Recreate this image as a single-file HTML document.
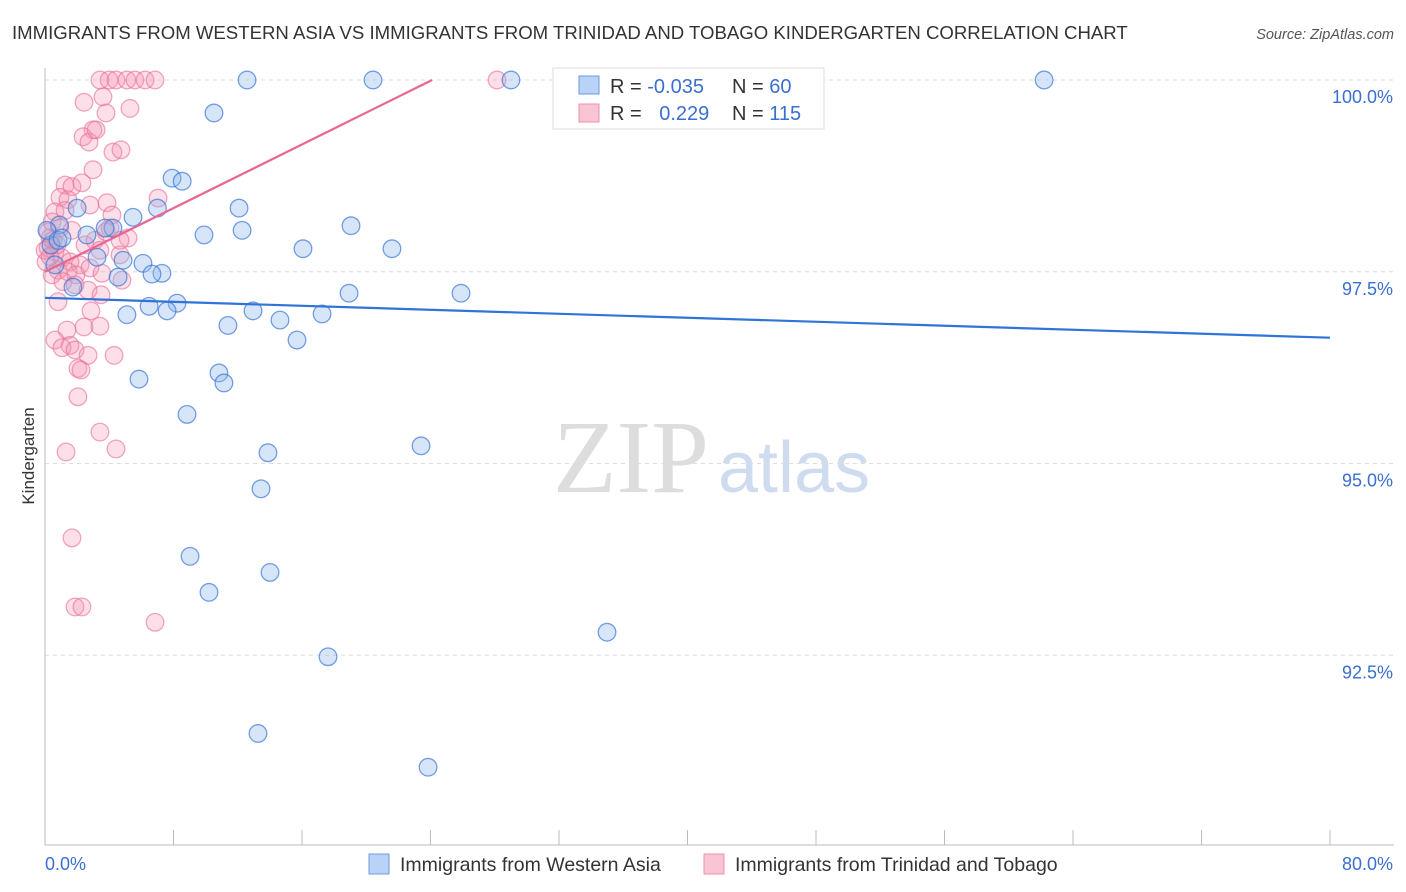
<!DOCTYPE html>
<html><head><meta charset="utf-8"><style>
body{margin:0;background:#fff;font-family:"Liberation Sans",sans-serif}
svg{display:block}
</style></head><body>
<svg id="c" width="1406" height="892">
<text x="12" y="39" font-size="18.6" fill="#333">IMMIGRANTS FROM WESTERN ASIA VS IMMIGRANTS FROM TRINIDAD AND TOBAGO KINDERGARTEN CORRELATION CHART</text>
<text x="1394" y="39" font-size="14.5" fill="#555" font-style="italic" text-anchor="end">Source: ZipAtlas.com</text>
<text x="553" y="492" font-size="104" fill="#ddd" font-family="Liberation Serif">ZIP</text>
<text x="718" y="492" font-size="72" fill="#cfdcf0">atlas</text>
<text transform="translate(34,456) rotate(-90)" font-size="17" fill="#333" text-anchor="middle">Kindergarten</text>
<g id="grid"></g><g id="pts"></g><g id="lines"></g>
<g>
<rect x="553" y="68" width="271" height="61" fill="#fff" stroke="#ddd"/>
<rect x="579" y="76" width="20" height="18" fill="#b9d2f5" stroke="#6a9be0"/>
<rect x="579" y="104" width="20" height="18" fill="#f9c4d3" stroke="#ef8fab"/>
<text x="610" y="93" font-size="20" fill="#333">R = <tspan fill="#3a6fd0">-0.035</tspan></text>
<text x="732" y="93" font-size="20" fill="#333">N = <tspan fill="#3a6fd0">60</tspan></text>
<text x="610" y="120" font-size="20" fill="#333">R = <tspan fill="#3a6fd0" dx="12">0.229</tspan></text>
<text x="732" y="120" font-size="20" fill="#333">N = <tspan fill="#3a6fd0">115</tspan></text>
</g>
<g>
<rect x="369" y="854" width="20" height="20" fill="#b9d2f5" stroke="#6a9be0"/>
<text x="400" y="871" font-size="19.5" fill="#333">Immigrants from Western Asia</text>
<rect x="704" y="854" width="20" height="20" fill="#f9c4d3" stroke="#ef8fab"/>
<text x="735" y="871" font-size="19.5" fill="#333">Immigrants from Trinidad and Tobago</text>
</g>
<text x="45" y="870" font-size="18" fill="#3a6fd0">0.0%</text>
<text x="1393" y="870" font-size="18" fill="#3a6fd0" text-anchor="end">80.0%</text>
</svg>
<script>
const yTicks=[100,97.5,95,92.5];
const yTickLabels=["100.0%","97.5%","95.0%","92.5%"];
const blueX=[12.58,20.42,29.01,42.4,62.2,10.52,7.91,8.54,12.08,7.0,5.48,19.05,12.27,9.9,4.23,2.0,0.9,2.61,16.06,21.6,3.24,4.86,6.1,7.28,6.66,4.55,0.37,0.62,1.74,18.93,25.9,8.22,6.48,7.6,12.95,5.1,17.25,14.63,11.39,15.69,5.85,10.83,11.14,8.84,13.88,23.41,13.45,9.03,14.01,10.21,17.62,34.99,13.26,23.85,0.12,0.81,3.74,1.06];
const blueY=[100,100,100,100,100,99.57,98.72,98.68,98.33,98.33,98.21,98.10,98.04,97.98,98.07,98.33,98.11,97.98,97.80,97.80,97.69,97.65,97.61,97.48,97.47,97.43,97.85,97.59,97.30,97.22,97.22,97.09,97.05,96.99,96.99,96.94,96.95,96.87,96.80,96.61,96.10,96.18,96.05,95.64,95.14,95.23,94.67,93.79,93.58,93.32,92.48,92.80,91.48,91.04,98.04,97.91,98.07,97.94];
const pinkX=[3.42,3.99,4.42,5.1,5.6,6.23,6.85,28.14,2.43,3.61,5.29,3.8,2.99,2.37,2.74,3.18,4.23,4.73,2.99,1.25,1.68,2.3,0.93,1.43,2.8,3.86,7.04,4.17,0.62,1.25,0.44,0.93,1.68,2.49,3.11,3.8,5.17,0.31,0.19,0.62,1.06,1.56,2.18,2.8,0.81,1.43,1.93,3.42,4.67,0.06,0.44,1.12,1.87,3.55,4.79,2.68,3.49,0.81,2.86,1.37,2.43,3.42,0.62,1.56,1.06,1.87,2.68,4.3,2.05,2.24,2.05,3.42,4.42,1.31,1.68,1.87,2.3,6.85,0.19,0.5,0.75,0,0.31,4.67,4.05];
const pinkY=[100,100,100,100,100,100,100,100,99.71,99.78,99.63,99.57,99.35,99.26,99.19,99.35,99.06,99.09,98.83,98.63,98.61,98.66,98.47,98.44,98.37,98.40,98.46,98.24,98.28,98.30,98.15,98.07,98.04,97.85,97.91,98.02,97.94,97.94,97.81,97.76,97.68,97.63,97.59,97.55,97.52,97.50,97.46,97.78,97.72,97.63,97.46,97.37,97.33,97.48,97.39,97.26,97.20,97.11,96.99,96.74,96.78,96.79,96.61,96.54,96.51,96.48,96.41,96.41,96.24,96.22,95.87,95.41,95.19,95.15,94.03,93.13,93.13,92.93,98.02,97.91,97.85,97.78,97.70,97.91,98.07];
const blueTrend=[[0,97.16],[80,96.64]];
const pinkTrend=[[0,97.5],[24.1,100]];
const X=v=>45+v/80*1285, Y=v=>80+(100-v)*76.7;
const NS="http://www.w3.org/2000/svg";
function mk(t,a,p){const e=document.createElementNS(NS,t);for(const k in a)e.setAttribute(k,a[k]);p.appendChild(e);return e;}
const g=document.getElementById('grid');
yTicks.forEach((t,i)=>{
 const l=mk('line',{x1:45,x2:1394,y1:Y(t),y2:Y(t),stroke:'#ddd','stroke-dasharray':'4,4'},g);
 
 
 const tx=mk('text',{x:1393,y:Y(t)+23,'font-size':18,fill:'#3a6fd0','text-anchor':'end'},g);
 tx.textContent=yTickLabels[i];
 
 
});
const ax=mk('line',{x1:45,x2:45,y1:68,y2:845,stroke:'#bbb'},g);


const bx=mk('line',{x1:45,x2:1394,y1:845,y2:845,stroke:'#bbb'},g);


for(let i=0;i<=10;i++){const t=mk('line',{x1:X(i*8),x2:X(i*8),y1:830,y2:845,stroke:'#bbb'},g);
 
 }
const p=document.getElementById('pts');
pinkX.forEach((v,i)=>{const c=mk('circle',{cx:X(v),cy:Y(pinkY[i]),r:8.8,fill:'rgba(244,150,178,0.3)',stroke:'rgba(232,110,150,0.6)','stroke-width':1.3},p);
 
 });
blueX.forEach((v,i)=>{const c=mk('circle',{cx:X(v),cy:Y(blueY[i]),r:8.8,fill:'rgba(140,180,235,0.35)',stroke:'rgba(60,120,215,0.7)','stroke-width':1.3},p);
 
 });
const L=document.getElementById('lines');
const b=mk('line',{x1:X(blueTrend[0][0]),y1:Y(blueTrend[0][1]),x2:X(blueTrend[1][0]),y2:Y(blueTrend[1][1]),stroke:'#2f74d6','stroke-width':2.2},L);


const pk=mk('line',{x1:X(pinkTrend[0][0]),y1:Y(pinkTrend[0][1]),x2:X(pinkTrend[1][0]),y2:Y(pinkTrend[1][1]),stroke:'#e8668f','stroke-width':2.2},L);


</script>
</body></html>
